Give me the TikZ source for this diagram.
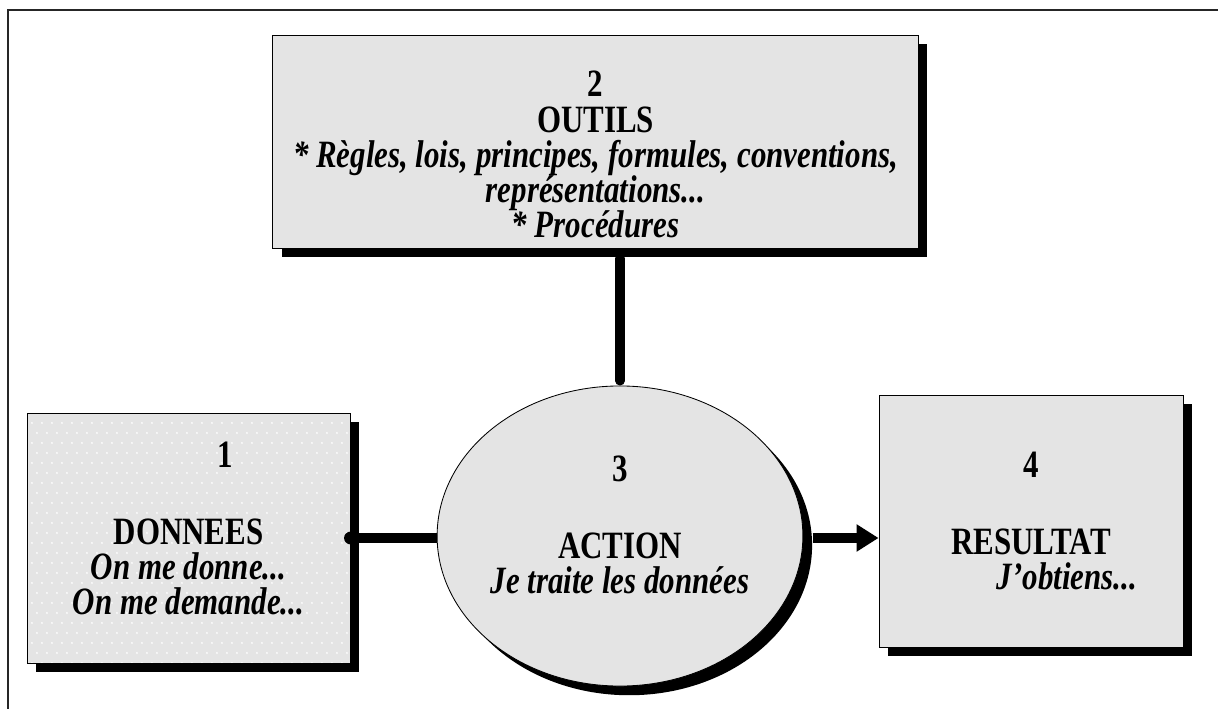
\documentclass[tikz,border=0pt]{standalone}
\usepackage{fontspec}
\setmainfont{Liberation Serif}[FakeStretch = 0.8]
\usepackage{tikz}
\usetikzlibrary{shapes.geometric,arrows.meta,positioning,shadows}
\definecolor{boxgray}{RGB}{228,228,228}

\begin{document}
\begin{tikzpicture}[
			x = 0.025cm, y = -0.025cm,
			every node/.style = {font = \fontsize{27.5}{25}\selectfont\bfseries, align = center},
			ombre/.style = {drop shadow = {shadow xshift = 0.23cm, shadow yshift = -0.23cm, fill = black, opacity = 1}},
			boite/.style = {draw, line width = 0.6pt, fill = boxgray, ombre, inner sep = 0pt},
			liaison/.style = {line width = 0.24cm},
			points/.style = {path picture = {
				\foreach \i in {0,...,33} \foreach \j in {0,...,26}
					\fill[white, opacity = 0.8] ([shift = {({\i*10+5*mod(\j,2)},{\j*10})}]path picture bounding box.north west) circle (0.03cm);
			}}]

			\useasboundingbox (0,0) rectangle (1218,709);
			\draw[line width = 1.2pt, black!85] (8,709) -- (8,10) -- (1218,10);

			\node[boite, minimum width = 16.125cm, minimum height = 5.325cm] (outils) at (595.5,141.5)
				{\rule{0pt}{1.3cm}2\\OUTILS\\{\itshape * Règles, lois, principes, formules, conventions,}\\{\itshape représentations...}\\{\itshape * Procédures}};

			\node[boite, points, minimum width = 8.075cm, minimum height = 6.25cm] (donnees) at (188.5,538)
				{\hspace*{1.85cm}1\\[1.05cm]DONNEES\\{\itshape On me donne...}\\{\itshape On me demande...}\rule[-0.5cm]{0pt}{0pt}};

			\node[boite, ellipse, minimum width = 9cm, minimum height = 7.5cm] (action) at (620,536)
				{3\\[1.05cm]ACTION\\{\itshape Je traite les données}\rule[-0.55cm]{0pt}{0pt}};

			\node[boite, minimum width = 7.6cm, minimum height = 6.3cm] (resultat) at (1031,521)
				{4\\[1.05cm]RESULTAT\\{\itshape\hspace*{1.8cm}J’obtiens...}};

			\draw[liaison, line cap = round] ([yshift = -0.25cm]action.north |- outils.south) -- ([yshift = 0.12cm]action.north);
			\draw[liaison] (donnees.east) -- (donnees.east -| action.west);
			\fill (donnees.east) circle (0.16cm);
			\draw[liaison, -{Triangle[length = 0.55cm, width = 0.65cm]}] ([xshift = 0.23cm]action.east |- donnees.east) -- (donnees.east -| resultat.west);

		\end{tikzpicture}
\end{document}
